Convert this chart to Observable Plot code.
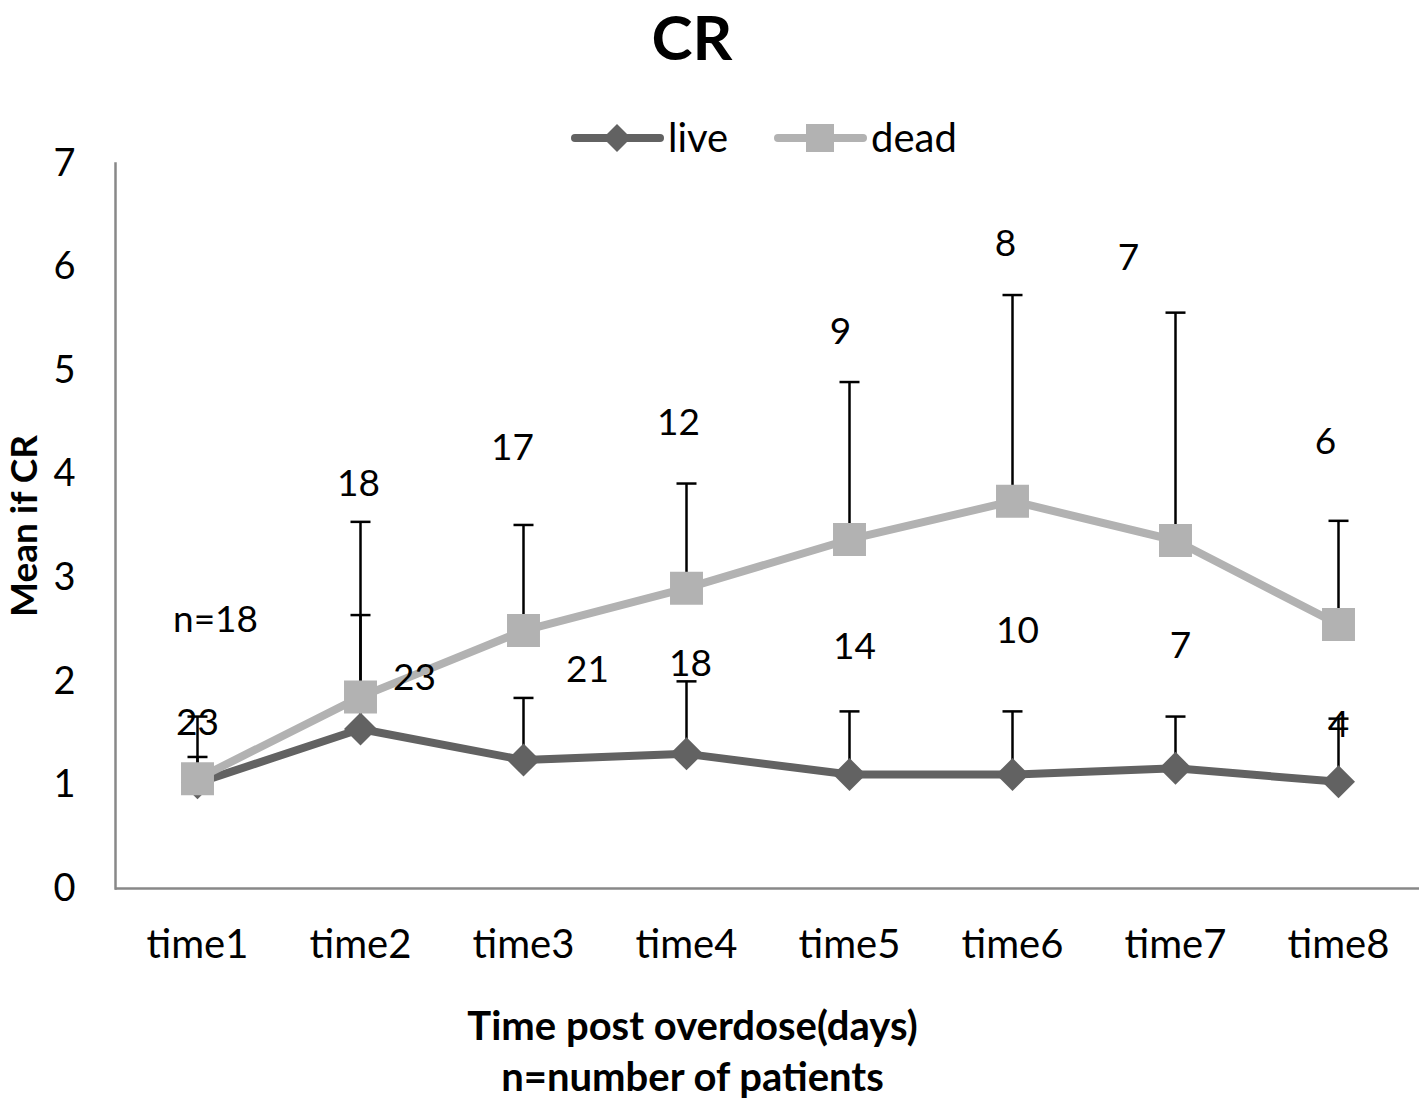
<!DOCTYPE html>
<html>
<head>
<meta charset="utf-8">
<script src="https://cdn.jsdelivr.net/npm/d3@7"></script>
<script src="https://cdn.jsdelivr.net/npm/@observablehq/plot@0.6"></script>
<style>
  body { margin: 0; background: #fff; font-family: Lato, "Open Sans", sans-serif; }
  #wrap { position: relative; width: 1422px; height: 1099px; overflow: hidden; }
  #title { position: absolute; top: 0; left: 0; width: 1384px; text-align: center; font-weight: bold; font-size: 62px; line-height: 72px; color: #000; }
  #legend { position: absolute; top: 112px; left: 0; }
  #chart { position: absolute; top: 130px; left: 0; }
</style>
</head>
<body>
<div id="wrap">
  <div id="title">CR</div>
  <div id="chart"></div>
  <div id="legend"></div>
</div>
<script>
// ---- data ----
const categories = ["time1", "time2", "time3", "time4", "time5", "time6", "time7", "time8"];
const liveMean  = [1.02, 1.54, 1.24, 1.30, 1.10, 1.10, 1.16, 1.03];
const liveUpper = [1.27, 2.64, 1.84, 2.00, 1.71, 1.71, 1.66, 1.64];
const deadMean  = [1.06, 1.85, 2.49, 2.90, 3.37, 3.74, 3.36, 2.55];
const deadUpper = [1.66, 3.54, 3.51, 3.91, 4.89, 5.73, 5.56, 3.55];
const liveN = ["23", "23", "21", "18", "14", "10", "7", "4"];
const deadN = ["n=18", "18", "17", "12", "9", "8", "7", "6"];
const yTicks = [0, 1, 2, 3, 4, 5, 6, 7];
const seriesNames = ["live", "dead"];
// where the count labels sit (value units) and their horizontal nudge (px)
const liveLabelY  = [1.60, 2.03, 2.11, 2.17, 2.33, 2.48, 2.34, 1.58];
const liveLabelDx = [0, 54, 64, 4, 5, 5, 5, 0];
const deadLabelY  = [2.59, 3.90, 4.25, 4.49, 5.37, 6.22, 6.09, 4.31];
const deadLabelDx = [18, -2, -11, -8, -9, -7, -47, -13];

const liveColor = "#626262";
const deadColor = "#b2b2b2";
const axisColor = "#888888";
const font = "Lato, 'Open Sans', sans-serif";

const rows = categories.map((c, i) => ({
  time: c, live: liveMean[i], liveHi: liveUpper[i], dead: deadMean[i], deadHi: deadUpper[i]
}));

// custom symbols
const diamond = { draw(ctx, size) { const h = Math.sqrt(size / Math.PI); ctx.moveTo(0, -h); ctx.lineTo(h, 0); ctx.lineTo(0, h); ctx.lineTo(-h, 0); ctx.closePath(); } };
const cap = { draw(ctx, size) { const h = Math.sqrt(size / Math.PI); ctx.moveTo(-h, 0); ctx.lineTo(h, 0); } };

const labelMarks = [];
categories.forEach((c, i) => {
  labelMarks.push(Plot.text([{ time: c, y: deadLabelY[i], label: deadN[i] }], { x: "time", y: "y", text: "label", dx: deadLabelDx[i], fontSize: 37, fill: "#000" }));
  labelMarks.push(Plot.text([{ time: c, y: liveLabelY[i], label: liveN[i] }], { x: "time", y: "y", text: "label", dx: liveLabelDx[i], fontSize: 37, fill: "#000" }));
});

const chart = Plot.plot({
  width: 1422,
  height: 969,
  marginTop: 33,
  marginLeft: 115,
  marginRight: 3,
  marginBottom: 211,
  style: { fontFamily: font, background: "transparent", color: "#000" },
  x: { type: "point", domain: categories, padding: 0.5 },
  y: { domain: [0, 7] },
  marks: [
    Plot.axisY({ ticks: yTicks, tickSize: 0, tickPadding: 40, fontSize: 38, label: null, tickFormat: d => String(d) }),
    Plot.axisX({ tickSize: 0, tickPadding: 41, fontSize: 40, label: null }),
    Plot.ruleY([0], { stroke: axisColor, strokeWidth: 2.5 }),
    Plot.frame({ anchor: "left", stroke: axisColor, strokeWidth: 2.5 }),
    Plot.line(rows, { x: "time", y: "live", stroke: liveColor, strokeWidth: 8, strokeLinejoin: "round" }),
    Plot.line(rows, { x: "time", y: "dead", stroke: deadColor, strokeWidth: 8, strokeLinejoin: "round" }),
    Plot.ruleX(rows, { x: "time", y1: "live", y2: "liveHi", stroke: "#000", strokeWidth: 2.5 }),
    Plot.dot(rows, { x: "time", y: "liveHi", symbol: cap, r: 10, stroke: "#000", strokeWidth: 2.5, fill: "none" }),
    Plot.ruleX(rows, { x: "time", y1: "dead", y2: "deadHi", stroke: "#000", strokeWidth: 2.5 }),
    Plot.dot(rows, { x: "time", y: "deadHi", symbol: cap, r: 10, stroke: "#000", strokeWidth: 2.5, fill: "none" }),
    Plot.dot(rows, { x: "time", y: "live", symbol: diamond, r: 16.5, fill: liveColor, stroke: "none" }),
    Plot.dot(rows, { x: "time", y: "dead", symbol: "square", r: 18.6, fill: deadColor, stroke: "none" }),
    ...labelMarks,
    Plot.text(["Mean if CR"], { frameAnchor: "left", textAnchor: "middle", lineAnchor: "middle", rotate: -90, dx: -90, fontWeight: "bold", fontSize: 37, fill: "#000" }),
    Plot.text(["Time post overdose(days)"], { frameAnchor: "bottom", textAnchor: "middle", lineAnchor: "middle", dx: -75, dy: 139, fontWeight: "bold", fontSize: 40, fill: "#000" }),
    Plot.text(["n=number of patients"], { frameAnchor: "bottom", textAnchor: "middle", lineAnchor: "middle", dx: -75, dy: 190, fontWeight: "bold", fontSize: 40, fill: "#000" })
  ]
});
document.getElementById("chart").appendChild(chart);

// legend
const lg = d3.select("#legend").append("svg").attr("width", 1422).attr("height", 52)
  .style("font-family", font);
const legendItems = [
  { name: seriesNames[0], color: liveColor, x0: 575, kind: "diamond" },
  { name: seriesNames[1], color: deadColor, x0: 778, kind: "square" }
];
legendItems.forEach(it => {
  const g = lg.append("g").attr("transform", `translate(${it.x0},26)`);
  g.append("line").attr("x1", 0).attr("x2", 85).attr("y1", 0).attr("y2", 0)
    .attr("stroke", it.color).attr("stroke-width", 8).attr("stroke-linecap", "round");
  if (it.kind === "diamond") {
    g.append("path").attr("d", "M42,-14L56,0L42,14L28,0Z").attr("fill", it.color);
  } else {
    g.append("rect").attr("x", 28).attr("y", -14).attr("width", 28).attr("height", 28).attr("fill", it.color);
  }
  g.append("text").attr("x", 93).attr("y", 0).attr("dy", "0.35em").attr("font-size", 40).attr("fill", "#000").text(it.name);
});
</script>
</body>
</html>
